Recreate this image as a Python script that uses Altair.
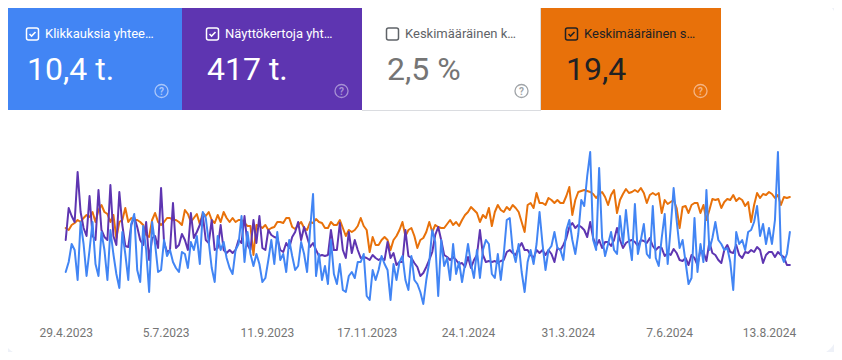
import altair as alt
import pandas as pd

# ---------------- data (one point every 2 days) ----------------
start_date = "2023-04-29"

clicks = [24, 29, 38, 35, 20, 49, 38, 22, 35, 49,
          28, 22, 44, 35, 20, 45, 33, 23, 16, 44,
          33, 20, 48, 53, 25, 19, 47, 35, 14, 49,
          38, 24, 25, 40, 32, 35, 29, 26, 24, 34,
          33, 26, 39, 35, 42, 28, 54, 51, 39, 26,
          19, 42, 35, 39, 31, 26, 23, 35, 38, 52,
          29, 44, 33, 27, 33, 28, 19, 21, 30, 40,
          28, 44, 30, 33, 24, 40, 32, 25, 27, 39,
          33, 24, 45, 63, 22, 33, 20, 27, 18, 40,
          23, 18, 28, 15, 14, 22, 24, 21, 29, 29,
          33, 12, 10, 25, 20, 25, 32, 28, 25, 10,
          28, 20, 29, 32, 20, 15, 32, 20, 18, 14,
          8, 20, 29, 45, 39, 12, 40, 27, 31, 20,
          38, 23, 29, 19, 28, 38, 28, 21, 35, 21,
          35, 40, 38, 23, 21, 33, 20, 33, 50, 51,
          35, 29, 38, 24, 14, 29, 35, 28, 38, 54,
          38, 25, 35, 37, 44, 36, 35, 30, 45, 50,
          40, 33, 43, 60, 57, 72, 84, 40, 35, 76,
          41, 32, 38, 44, 35, 33, 52, 38, 55, 40,
          30, 58, 33, 40, 48, 33, 31, 57, 31, 27,
          41, 53, 28, 46, 66, 50, 36, 40, 29, 18,
          21, 51, 24, 38, 29, 65, 35, 41, 49, 40,
          38, 35, 36, 29, 15, 44, 38, 40, 35, 44,
          45, 49, 57, 42, 48, 38, 46, 38, 50, 84,
          33, 29, 33, 44]

impressions = [800, 1120, 1040, 980, 1480, 1080, 920, 840, 1240, 840,
               800, 1300, 900, 830, 800, 1350, 840, 750, 1280, 950,
               740, 730, 950, 1030, 930, 800, 750, 980, 600, 820,
               840, 720, 1320, 780, 680, 700, 1170, 720, 750, 860,
               800, 700, 1070, 820, 880, 950, 1050, 800, 770, 1000,
               700, 720, 950, 700, 670, 700, 670, 700, 800, 770,
               1040, 750, 700, 1000, 770, 1040, 720, 700, 900, 850,
               830, 820, 700, 680, 770, 720, 830, 880, 980, 800,
               930, 830, 730, 770, 700, 640, 650, 640, 650, 900,
               700, 700, 970, 700, 620, 880, 670, 800, 700, 620,
               630, 620, 600, 650, 620, 600, 620, 600, 780, 620,
               670, 550, 580, 580, 900, 640, 620, 570, 530, 440,
               470, 530, 600, 680, 850, 930, 800, 650, 630, 600,
               630, 600, 560, 570, 530, 630, 520, 600, 650, 900,
               650, 580, 590, 580, 590, 570, 590, 600, 680, 700,
               670, 650, 720, 770, 700, 700, 650, 620, 700, 670,
               700, 650, 700, 660, 580, 720, 700, 750, 820, 930,
               970, 920, 950, 930, 900, 830, 980, 820, 740, 800,
               720, 780, 780, 740, 800, 920, 800, 720, 770, 790,
               800, 780, 740, 800, 790, 770, 820, 740, 700, 730,
               720, 640, 670, 650, 710, 670, 600, 590, 620, 550,
               650, 620, 550, 700, 680, 590, 780, 670, 650, 600,
               570, 700, 750, 680, 670, 750, 650, 620, 680, 670,
               700, 680, 730, 700, 570, 650, 680, 680, 630, 680,
               650, 630, 550, 550]

position = [21.6, 22, 21, 20.6, 20, 20.4, 19.6, 19, 19.4, 18.4,
            20.4, 18, 17, 18.4, 18.8, 20.4, 19, 23.6, 20.4, 20,
            17.6, 20.4, 19.6, 20, 20, 20.4, 21, 23, 23.4, 20,
            18.6, 20.4, 21, 20.4, 19.6, 19.6, 20, 20, 20.4, 21,
            18, 18.8, 20.4, 19.6, 18.8, 20.8, 18.6, 19.2, 18.4, 20,
            20.6, 19, 20.4, 18.4, 19.6, 20.4, 19.6, 20.4, 20, 20,
            20.6, 21.2, 21.2, 27, 21, 21.2, 21.6, 21, 22, 21.6,
            21.4, 20.4, 20.4, 20.6, 19.6, 19.6, 21.4, 21.8, 21, 20.4,
            21.6, 22, 20.4, 20.6, 19.8, 20.4, 20.6, 21.6, 21.6, 20.4,
            21, 21, 20, 21.6, 23.2, 22, 22.4, 22, 21.2, 19.6,
            21.2, 22, 26.4, 23.4, 25, 25, 24, 23.4, 24, 26,
            24, 23.2, 22, 20.4, 23.2, 22, 21.6, 23.2, 25.6, 24,
            23.6, 22.4, 20.4, 22.4, 21, 21.4, 21.6, 21.6, 20.8, 20,
            21, 20.4, 21.2, 20, 19, 18.4, 17.4, 18, 18.6, 20.4,
            19, 19.6, 17.6, 21.2, 18.4, 17, 18, 18.4, 17.4, 18,
            17, 17.6, 18.4, 20.4, 22.4, 17, 16.6, 17.6, 14.6, 16.6,
            16.6, 17, 15.6, 16, 16.6, 16, 16.6, 16.6, 15.2, 13.4,
            19, 16, 14.4, 14.2, 14, 14.2, 14.4, 14.8, 15.6, 14.8,
            14.4, 15.4, 17, 15, 14, 18.6, 16, 14.8, 13.8, 14.6,
            14.4, 14, 14.4, 13.6, 14.6, 16.6, 15, 14.6, 15, 14.6,
            18.6, 16, 16.8, 16.4, 16, 17.6, 21.6, 17.4, 17.2, 18.6,
            17, 16.6, 16.6, 18.6, 17, 20, 18, 15.8, 16, 15.8,
            17.6, 16.4, 15.8, 16, 15, 16.2, 15.6, 16, 17.2, 16.4,
            20.4, 17, 14.6, 15.6, 14.8, 15, 14.4, 14.8, 15.6, 15,
            17, 15.4, 15.6, 15.4]

tick_dates = ["2023-04-29", "2023-07-05", "2023-09-11", "2023-11-17",
              "2024-01-24", "2024-03-31", "2024-06-07", "2024-08-13"]

tile_labels = ["Klikkauksia yhtee\u2026", "N\u00e4ytt\u00f6kertoja yht\u2026",
               "Keskim\u00e4\u00e4r\u00e4inen k\u2026", "Keskim\u00e4\u00e4r\u00e4inen s\u2026"]
tile_values = ["10,4 t.", "417 t.", "2,5 %", "19,4"]
tile_checked = [True, True, False, True]

# ---------------- styling ----------------
BLUE, PURPLE, ORANGE = "#4285f4", "#5e35b1", "#e8710a"
FONT = "Roboto"

dates = pd.date_range(start_date, periods=len(clicks), freq="2D")
df = pd.DataFrame({"date": dates, "clicks": clicks,
                   "impressions": impressions, "position": position})


def dt(s):
    y, m, d = (int(p) for p in s.split("-"))
    return alt.DateTime(year=y, month=m, date=d)


one = pd.DataFrame({"k": [0]})


def rect(x0, x1, y0, y1, **kw):
    return alt.Chart(one).mark_rect(**kw).encode(
        x=alt.value(x0), x2=alt.value(x1), y=alt.value(y0), y2=alt.value(y1))


def text(x, y, s, **kw):
    return alt.Chart(one).mark_text(**kw).encode(
        x=alt.value(x), y=alt.value(y), text=alt.value(s))


layers = []
# card
layers.append(rect(-6, 829, -8, 347, fill="white", cornerRadius=22))

# tiles
tile_x = [-6, 174, 354, 533]
tile_w = [180, 180, 179, 180]
tile_fill = [BLUE, PURPLE, "white", ORANGE]
label_col = ["white", "white", "#5f6368", "#202124"]
value_col = ["white", "white", "#757575", "#202124"]
box_col = ["white", "white", "#5f6368", "#202124"]
help_col = ["#a9c6fa", "#a690d4", "#a0a4a8", "#f4b483"]

for i in range(4):
    x0 = tile_x[i]
    kw = {"fill": tile_fill[i]}
    if i == 0:
        kw["cornerRadiusTopLeft"] = 22
    layers.append(rect(x0, x0 + tile_w[i], -8, 102, **kw))
    if i == 2:
        layers.append(alt.Chart(one).mark_rule(color="#dadce0", strokeWidth=1).encode(
            x=alt.value(x0), x2=alt.value(x0 + tile_w[i]), y=alt.value(102.5)))
        layers.append(alt.Chart(one).mark_rule(color="#dadce0", strokeWidth=1).encode(
            x=alt.value(x0 + tile_w[i] - 0.5), y=alt.value(-8), y2=alt.value(102)))
    # checkbox
    layers.append(rect(x0 + 24.5, x0 + 36.5, 20, 32, fill="transparent",
                       stroke=box_col[i], strokeWidth=1.5, cornerRadius=2))
    if tile_checked[i]:
        layers.append(alt.Chart(one).mark_point(
            shape="M-0.8,0 L-0.25,0.55 L0.8,-0.55", filled=False, size=56,
            strokeWidth=1.5, color=box_col[i], opacity=1).encode(
            x=alt.value(x0 + 30.5), y=alt.value(26)))
    # label + value
    layers.append(text(x0 + 43, 29.5, tile_labels[i], font=FONT, fontSize=13,
                       color=label_col[i], align="left", baseline="alphabetic"))
    layers.append(text(x0 + 25, 72, tile_values[i], font=FONT, fontSize=32,
                       color=value_col[i], align="left", baseline="alphabetic"))
    # help icon
    layers.append(alt.Chart(one).mark_point(
        shape="circle", filled=False, size=170, strokeWidth=1.3,
        color=help_col[i], opacity=1).encode(
        x=alt.value(x0 + 159.5), y=alt.value(83)))
    layers.append(text(x0 + 159.5, 83.5, "?", font=FONT, fontSize=10, fontWeight="bold",
                       color=help_col[i], align="center", baseline="middle"))

# ---------------- lines ----------------
x_enc = alt.X("date:T",
              scale=alt.Scale(domain=[dt("2023-04-29"), dt("2024-08-13")],
                              range=[57.7, 761], nice=False, zero=False),
              axis=alt.Axis(values=[dt(s) for s in tick_dates], format="%-d.%-m.%Y",
                            labelFont=FONT, labelFontSize=12, labelColor="#757575",
                            domain=False, ticks=False, tickSize=0, grid=False,
                            offset=-20, labelPadding=0, labelBaseline="middle",
                            labelFlush=False, labelOverlap=False, labelBound=False,
                            zindex=1, title=None))

line_kw = dict(strokeWidth=2, strokeJoin="round", strokeCap="round")

orange_line = alt.Chart(df).mark_line(color=ORANGE, **line_kw).encode(
    x=x_enc,
    y=alt.Y("position:Q", scale=alt.Scale(domain=[2, 40], range=[122, 312],
                                          nice=False, zero=False), axis=None))
purple_line = alt.Chart(df).mark_line(color=PURPLE, **line_kw).encode(
    x=x_enc,
    y=alt.Y("impressions:Q", scale=alt.Scale(domain=[0, 1900], range=[312, 122],
                                             nice=False, zero=False), axis=None))
blue_line = alt.Chart(df).mark_line(color=BLUE, **line_kw).encode(
    x=x_enc,
    y=alt.Y("clicks:Q", scale=alt.Scale(domain=[0, 95], range=[312, 122],
                                        nice=False, zero=False), axis=None))

chart = alt.layer(*layers, orange_line, purple_line, blue_line).resolve_scale(
    y="independent"
).properties(
    width=826, height=344, padding=0,
    autosize=alt.AutoSizeParams(type="none"),
    background="#eef1f8",
).configure_view(strokeWidth=0)

chart.save("out.html", embed_options={"renderer": "svg", "actions": False})
